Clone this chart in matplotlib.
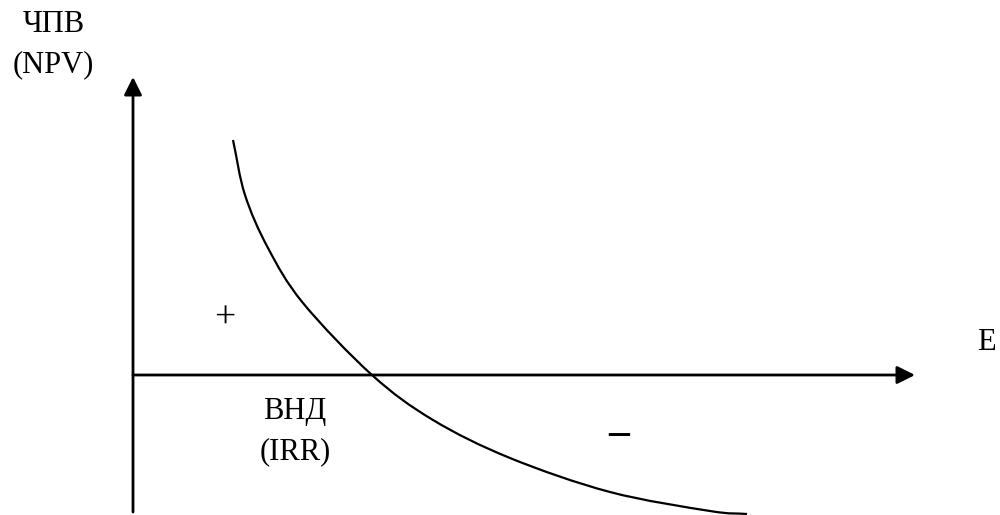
import matplotlib
matplotlib.use("Agg")
import matplotlib.pyplot as plt
import numpy as np
from matplotlib.path import Path
from matplotlib.patches import PathPatch

plt.rcParams['font.family'] = ['Liberation Serif', 'DejaVu Serif']

# NPV profile: discount rate E vs NPV (schematic units)
rate = [1.00, 1.12, 1.35, 1.70, 2.39, 3.00, 3.77, 4.77, 5.77, 6.14]
npv = [2.35, 1.80, 1.27, 0.72, 0.00, -0.45, -0.83, -1.17, -1.36, -1.39]

x_axis_end = 7.82
y_axis_top = 2.98
y_axis_bottom = -1.37


def smooth_path(xs, ys):
    # Catmull-Rom through the points, drawn as cubic Bezier segments
    p = np.column_stack([xs, ys])
    p = np.vstack([2 * p[0] - p[1], p, 2 * p[-1] - p[-2]])
    verts = [p[1]]
    codes = [Path.MOVETO]
    for i in range(1, len(p) - 2):
        c1 = p[i] + (p[i + 1] - p[i - 1]) / 6
        c2 = p[i + 1] - (p[i + 2] - p[i]) / 6
        verts += [c1, c2, p[i + 1]]
        codes += [Path.CURVE4] * 3
    return Path(verts, codes)


fig = plt.figure(figsize=(10, 5.15), dpi=100)
ax = fig.add_axes([0, 0, 1, 1])
ax.set_xlim(-1.33, 8.67)
ax.set_ylim(-1.40, 3.75)
ax.axis('off')

arrow = dict(arrowstyle='-|>', lw=2, color='black', mutation_scale=27,
             shrinkA=0, shrinkB=0)
ax.annotate('', xy=(x_axis_end, 0), xytext=(0, 0), arrowprops=arrow)
ax.annotate('', xy=(0, y_axis_top), xytext=(0, y_axis_bottom), arrowprops=arrow)

ax.add_patch(PathPatch(smooth_path(rate, npv), facecolor='none',
                       edgecolor='black', lw=1.6))

fs = 22
ax.text(-0.79, 3.51, 'ЧПВ', fontsize=fs, ha='center', va='center')
ax.text(-0.80, 3.10, '(NPV)', fontsize=fs, ha='center', va='center')
ax.text(1.62, -0.37, 'ВНД', fontsize=fs, ha='center', va='center')
ax.text(1.62, -0.77, '(IRR)', fontsize=fs, ha='center', va='center')
ax.text(8.53, 0.33, 'E', fontsize=fs, ha='center', va='center')
ax.text(0.92, 0.57, '+', fontsize=27, ha='center', va='center')
ax.text(4.86, -0.59, '–', fontsize=30, ha='center', va='center',
        fontweight='bold')

fig.savefig('out.png', dpi=100)
